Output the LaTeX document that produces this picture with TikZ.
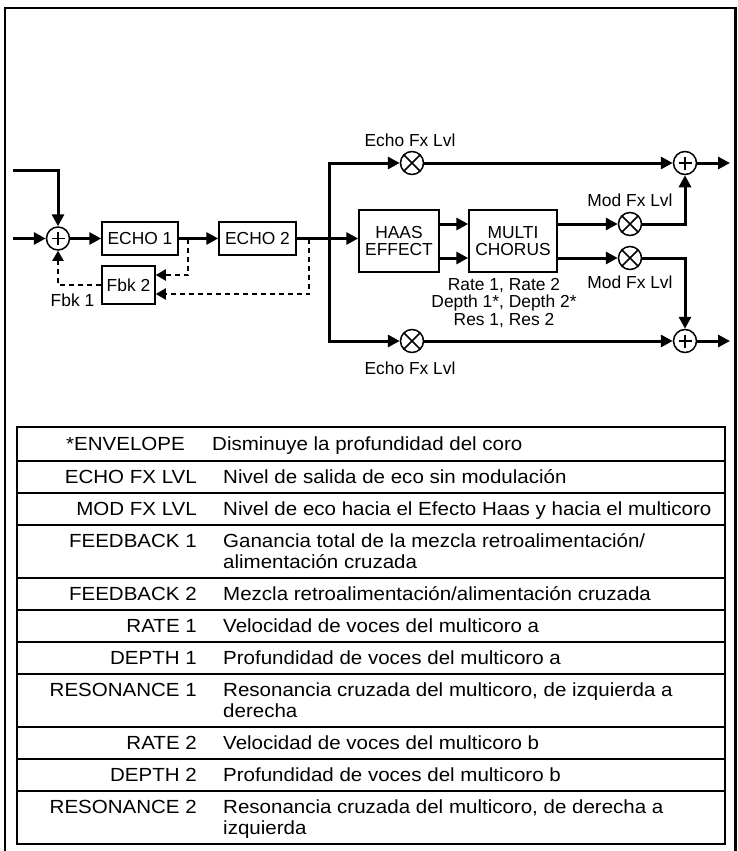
\documentclass[tikz,border=0pt]{standalone}
\usepackage{fontspec}
\setmainfont{Liberation Sans}
\newfontfamily\tabfont[FakeStretch=1.08]{Liberation Sans}
\usetikzlibrary{arrows.meta,calc}
\tikzset{
  sig/.style={line width=3pt},
  tip/.style={-{Triangle[length=12pt,width=12pt]}},
  fbk/.style={line width=2pt, dash pattern=on 5pt off 4pt, -{Triangle[length=10pt,width=11pt]}},
  blk/.style={draw, line width=1.5pt, inner sep=0pt, align=center},
  sumnode/.style={circle, draw, line width=1.5pt, minimum size=23pt, inner sep=0pt,
    path picture={\draw[line width=1.5pt]
      ([yshift=6.5pt]path picture bounding box.center) -- ([yshift=-6.5pt]path picture bounding box.center)
      ([xshift=-6.5pt]path picture bounding box.center) -- ([xshift=6.5pt]path picture bounding box.center);}},
  mulnode/.style={circle, draw, line width=1.5pt, minimum size=23pt, inner sep=0pt,
    path picture={\draw[line width=1.5pt]
      ([shift={(45:12pt)}]path picture bounding box.center) -- ([shift={(225:12pt)}]path picture bounding box.center)
      ([shift={(135:12pt)}]path picture bounding box.center) -- ([shift={(315:12pt)}]path picture bounding box.center);}},
  lbl/.style={inner sep=0pt},
  tl/.style={inner sep=0pt, anchor=base east, font=\tabfont\fontsize{19}{19.5}\selectfont},
  tr/.style={inner sep=0pt, anchor=base west, font=\tabfont\fontsize{19}{19.5}\selectfont},
  frame/.style={line width=2.5pt},
  rowline/.style={line width=1.5pt},
}
\begin{document}
\begin{tikzpicture}[x=1pt,y=-1pt, font=\fontsize{17.4}{17.5}\selectfont]
\useasboundingbox (0,0) rectangle (737,851);
% outer frame (open at the bottom)
\draw[frame] (5,851) -- (5,8) -- (735.5,8) -- (735.5,851);

% ---------- blocks ----------
\node[sumnode] (sum1) at (58,238.5) {};
\node[blk, minimum width=76pt, minimum height=33pt] (echo1) at (140,238.5) {ECHO 1};
\node[blk, minimum width=77pt, minimum height=33pt] (echo2) at (257.5,238.5) {ECHO 2};
\node[blk, minimum width=53pt, minimum height=38pt] (fbk2) at (128.5,285) {Fbk 2};
\node[blk, minimum width=80pt, minimum height=62pt] (haas) at (399,241) {HAAS\\EFFECT};
\node[blk, minimum width=88pt, minimum height=62pt] (multi) at (513,241) {MULTI\\CHORUS};
\node[mulnode] (mulT) at (412,163) {};
\node[mulnode] (mulB) at (412,341) {};
\node[mulnode] (mulM1) at (630,224) {};
\node[mulnode] (mulM2) at (630,258) {};
\node[sumnode] (sumT) at (685,163) {};
\node[sumnode] (sumB) at (685,341) {};

% ---------- labels ----------
\node[lbl] (lEchoT) at (410,140) {Echo Fx Lvl};
\node[lbl] (lEchoB) at (410,368) {Echo Fx Lvl};
\node[lbl] (lModT) at (630,200) {Mod Fx Lvl};
\node[lbl] (lModB) at (630,282) {Mod Fx Lvl};
\node[lbl] (lFbk1) at (72.5,300) {Fbk 1};
\node[lbl, align=center] (lPar) at (504,303) {Rate 1, Rate 2\\Depth 1*, Depth 2*\\Res 1, Res 2};

% ---------- coordinates ----------
\coordinate (inTop) at (13,170);
\coordinate (inLeft) at (13,238.5);
\coordinate (split) at (329,238.5);
\coordinate (tap1) at (188,238.5);
\coordinate (tap2) at (309,238.5);
\coordinate (outT) at (730,163);
\coordinate (outB) at (730,341);

% ---------- signal connectors ----------
\draw[sig,tip] (inTop) -| (sum1);
\draw[sig,tip] (inLeft) -- (sum1);
\draw[sig,tip] (sum1) -- (echo1);
\draw[sig,tip] (echo1) -- (echo2);
\draw[sig,tip] (echo2.east) -- (echo2.east -| haas.west);
\draw[sig,tip] (split) |- (mulT);
\draw[sig,tip] (split) |- (mulB);
\draw[sig,tip] (mulT) -- (sumT);
\draw[sig,tip] (mulB) -- (sumB);
\draw[sig,tip] (sumT) -- (outT);
\draw[sig,tip] (sumB) -- (outB);
\draw[sig,tip] ([yshift=17pt]haas.east) -- ([yshift=17pt]multi.west);
\draw[sig,tip] ([yshift=-17pt]haas.east) -- ([yshift=-17pt]multi.west);
\draw[sig,tip] ([yshift=17pt]multi.east) -- (mulM1);
\draw[sig,tip] ([yshift=-17pt]multi.east) -- (mulM2);
\draw[sig,tip] (mulM1) -| (sumT);
\draw[sig,tip] (mulM2) -| (sumB);

% ---------- feedback connectors ----------
\draw[fbk] (tap1) |- ([yshift=10pt]fbk2.east);
\draw[fbk] (tap2) |- ([yshift=-9pt]fbk2.east);
\draw[fbk] (fbk2.west) -| (sum1);

% ---------- table ----------
\draw[frame] (17,427) rectangle (725,844);
\foreach \yy in {461,493,525,578,610,642,674,727,759,791}
  \draw[rowline] (17,\yy) -- (725,\yy);

\node[tl] (k1) at (185,450.8) {*ENVELOPE};
\node[tr] (v1) at (212,450.8) {Disminuye la profundidad del coro};
\node[tl] (k2) at (197,483.8) {ECHO FX LVL};
\node[tr] (v2) at (223,483.8) {Nivel de salida de eco sin modulación};
\node[tl] (k3) at (197,515.8) {MOD FX LVL};
\node[tr] (v3) at (223,515.8) {Nivel de eco hacia el Efecto Haas y hacia el multicoro};
\node[tl] (k4) at (197,547.8) {FEEDBACK 1};
\node[tr] (v4) at (223,547.8) {Ganancia total de la mezcla retroalimentación/};
\node[tr] (v4b) at (223,568.8) {alimentación cruzada};
\node[tl] (k5) at (197,600.8) {FEEDBACK 2};
\node[tr] (v5) at (223,600.8) {Mezcla retroalimentación/alimentación cruzada};
\node[tl] (k6) at (197,632.8) {RATE 1};
\node[tr] (v6) at (223,632.8) {Velocidad de voces del multicoro a};
\node[tl] (k7) at (197,664.8) {DEPTH 1};
\node[tr] (v7) at (223,664.8) {Profundidad de voces del multicoro a};
\node[tl] (k8) at (197,696.8) {RESONANCE 1};
\node[tr] (v8) at (223,696.8) {Resonancia cruzada del multicoro, de izquierda a};
\node[tr] (v8b) at (223,717.8) {derecha};
\node[tl] (k9) at (197,749.8) {RATE 2};
\node[tr] (v9) at (223,749.8) {Velocidad de voces del multicoro b};
\node[tl] (k10) at (197,781.8) {DEPTH 2};
\node[tr] (v10) at (223,781.8) {Profundidad de voces del multicoro b};
\node[tl] (k11) at (197,813.8) {RESONANCE 2};
\node[tr] (v11) at (223,813.8) {Resonancia cruzada del multicoro, de derecha a};
\node[tr] (v11b) at (223,834.8) {izquierda};
\end{tikzpicture}
\end{document}
